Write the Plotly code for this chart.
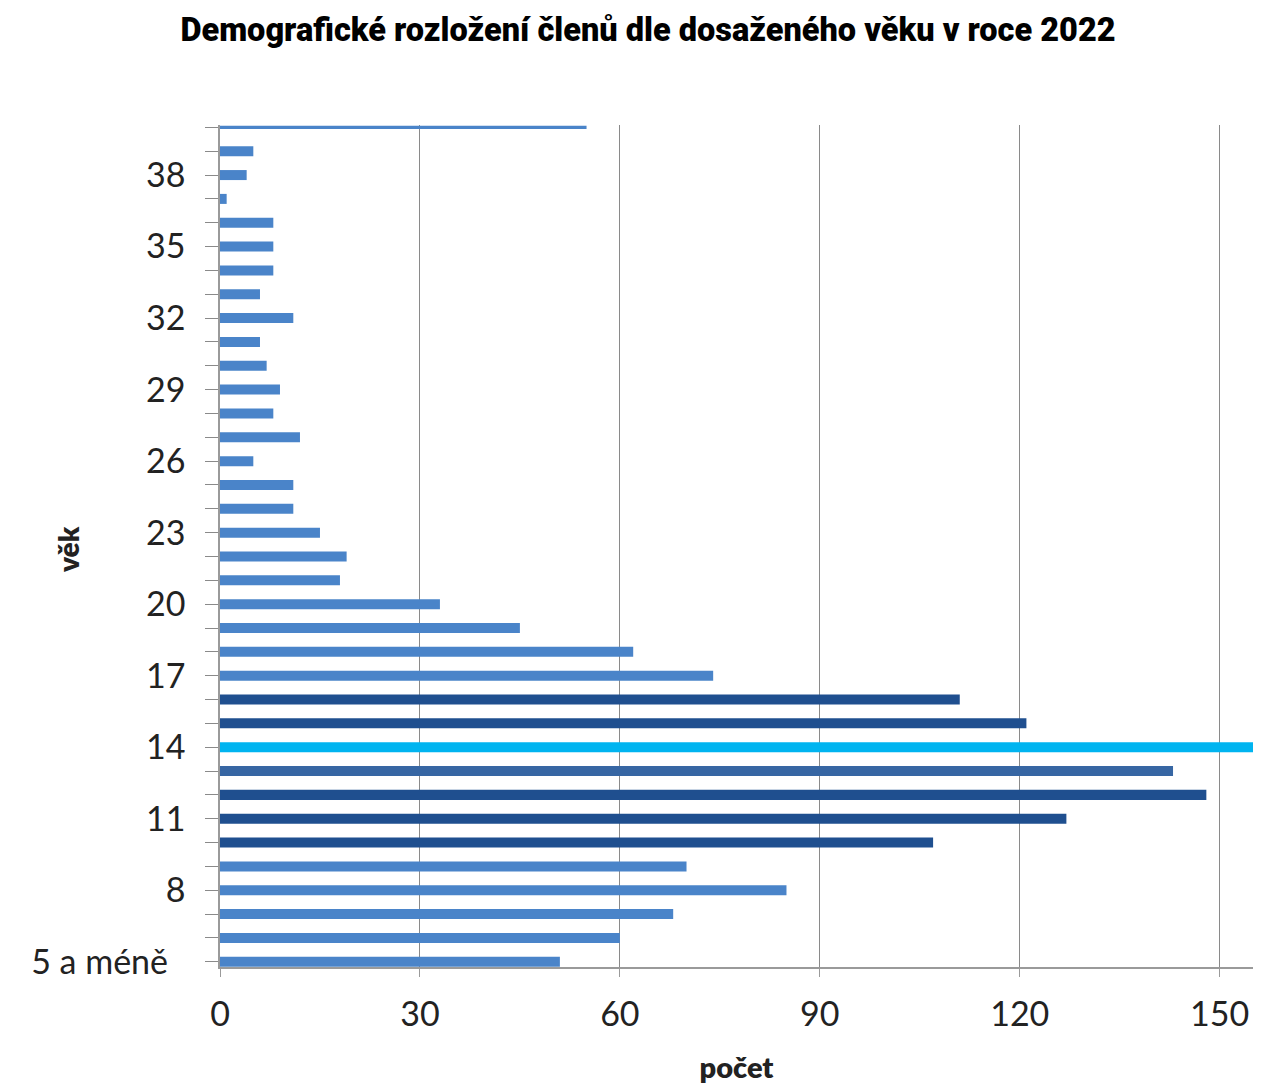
import plotly.graph_objects as go

ages = ["5 a méně"] + [str(a) for a in range(6, 40)] + ["40 a více"]
counts = [51, 60, 68, 85, 70, 107, 127, 148, 143, 155, 121, 111, 74, 62, 45, 33,
          18, 19, 15, 11, 11, 5, 12, 8, 9, 7, 6, 11, 6, 8, 8, 8, 1, 4, 5, 55]
shown_labels = ["5 a méně", "8", "11", "14", "17", "20", "23", "26", "29", "32", "35", "38"]

LIGHT = "#4a84c9"
DARK = "#1f4f8f"
MID = "#3766a3"
CYAN = "#00b4f0"
color_map = {"10": DARK, "11": DARK, "12": DARK, "13": MID, "14": CYAN, "15": DARK, "16": DARK}
colors = [color_map.get(a, LIGHT) for a in ages]
widths = [0.13 if a == "40 a více" else 0.42 for a in ages]

W, H = 1264, 1087
L, R, T, B = 212, 19, 117, 128
pw, ph = W - L - R, H - T - B


def label(a):
    if a == "5 a méně":
        return a + "\u00a0\u00a0"
    return a if a in shown_labels else ""


fig = go.Figure(go.Bar(
    y=ages, x=counts, orientation="h",
    marker=dict(color=colors, line=dict(width=0)),
    width=widths,
))

fig.update_layout(
    width=W, height=H,
    paper_bgcolor="white", plot_bgcolor="white",
    margin=dict(l=L, r=R, t=T, b=B, autoexpand=False),
    showlegend=False,
    title=dict(text="Demografické rozložení členů dle dosaženého věku v roce 2022",
               x=640 / W, xref="container", xanchor="center",
               y=1 - 22 / H, yref="container", yanchor="middle",
               font=dict(family="Roboto", size=32.5, color="black", weight=900)),
    annotations=[dict(text="věk", xref="paper", yref="paper",
                      x=-(L - 60) / pw, y=(T + ph - 542) / ph,
                      xanchor="center", yanchor="middle", textangle=-90, showarrow=False,
                      font=dict(family="Lato", size=28, color="#222", weight=800))],
)
fig.update_xaxes(
    range=[0, 155], tickvals=[0, 30, 60, 90, 120, 150],
    showgrid=True, gridcolor="#8a8a8a", gridwidth=1.3,
    showline=True, linecolor="#9a9a9a", linewidth=1.5,
    ticks="outside", ticklen=8, tickcolor="#9a9a9a",
    ticklabelstandoff=8,
    tickfont=dict(family="Lato", size=34, color="#222"),
    title=dict(text="počet", font=dict(family="Lato", size=29, color="#222", weight=800), standoff=26),
    zeroline=False, automargin=False,
)
fig.update_yaxes(
    type="category", categoryorder="array", categoryarray=ages,
    range=[-0.22, 35.1],
    tickmode="array", tickvals=ages,
    ticktext=[label(a) for a in ages],
    showline=True, linecolor="#9a9a9a", linewidth=1.5,
    ticks="outside", ticklen=13, tickcolor="#8a8a8a",
    ticklabelstandoff=13,
    tickfont=dict(family="Lato", size=34, color="#222"),
    showgrid=False, automargin=False,
)

fig.write_html("out.html")
